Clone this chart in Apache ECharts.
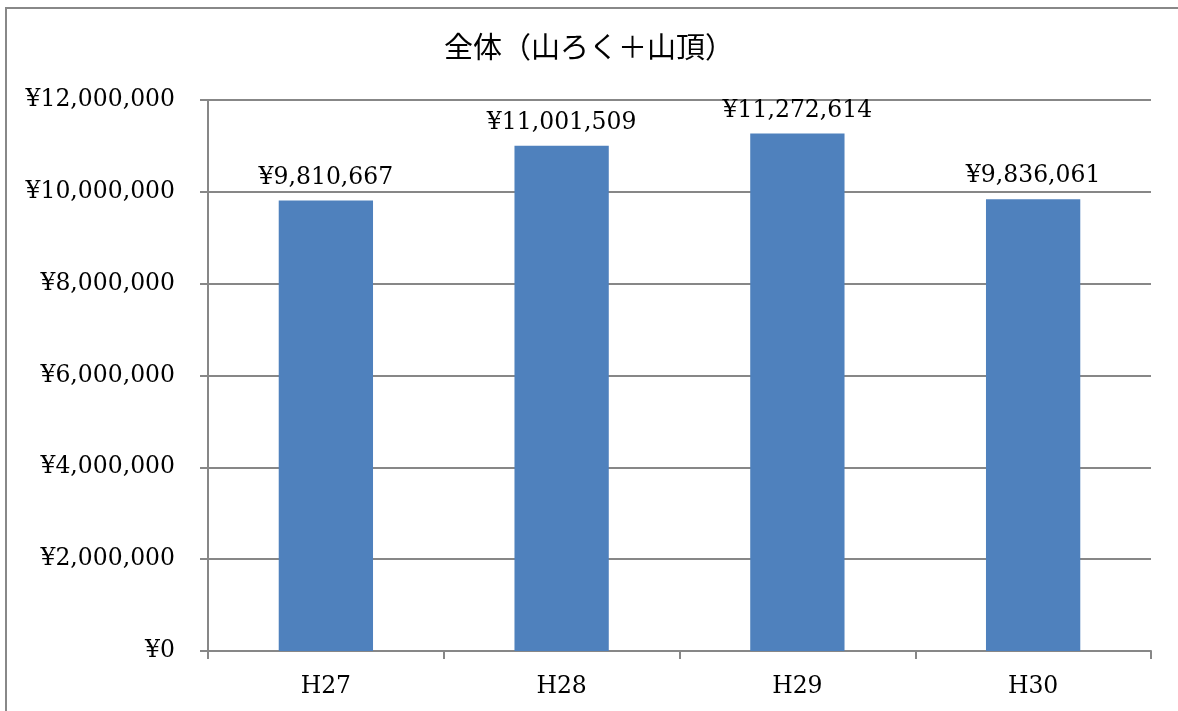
<!DOCTYPE html>
<html><head><meta charset="utf-8">
<script src="https://cdn.jsdelivr.net/npm/echarts@6/dist/echarts.min.js"></script>
<style>html,body{margin:0;padding:0;background:#fff;overflow:hidden}#c{width:1178px;height:711px}</style>
</head><body><div id="c"></div>
<script>
const titleText = '全体（山ろく＋山頂）';
const categories = ['H27', 'H28', 'H29', 'H30'];
const values = [9810667, 11001509, 11272614, 9836061];
const yTicks = [0, 2000000, 4000000, 6000000, 8000000, 10000000, 12000000];

function yen(v){ return '¥' + Number(v).toLocaleString('en-US'); }
const serif = 'DejaVu Serif';
const fs = 23.5;
const chart = echarts.init(document.getElementById('c'));
chart.setOption({
  animation: false,
  backgroundColor: '#fff',
  title: { text: titleText, left: 'center', top: 27,
    textStyle: { fontFamily: 'Noto Sans CJK JP', fontSize: 29, fontWeight: 'normal', color: '#000' } },
  graphic: [{ type: 'polyline', shape: { points: [[6, 800], [6, 8], [1300, 8]] },
    style: { fill: 'none', stroke: '#888', lineWidth: 2 }, silent: true }],
  grid: { left: 208, right: 27, top: 100, bottom: 60 },
  xAxis: { type: 'category', data: categories,
    axisLine: { lineStyle: { color: '#878787', width: 2 } },
    axisTick: { show: true, length: 8, lineStyle: { color: '#878787', width: 2 } },
    axisLabel: { fontFamily: serif, fontSize: fs, color: '#000', margin: 24 } },
  yAxis: { type: 'value', min: yTicks[0], max: yTicks[yTicks.length-1], interval: yTicks[1]-yTicks[0],
    axisLine: { show: true, lineStyle: { color: '#878787', width: 2 } },
    axisTick: { show: true, length: 8, lineStyle: { color: '#878787', width: 2 } },
    splitLine: { lineStyle: { color: '#878787', width: 2 } },
    axisLabel: { fontFamily: serif, fontSize: fs, color: '#000', margin: 33, formatter: yen } },
  series: [{ type: 'bar', data: values, barWidth: '40%',
    itemStyle: { color: '#4F81BD' },
    label: { show: true, position: 'top', distance: 11, fontFamily: serif, fontSize: fs, color: '#000',
      formatter: p => yen(p.value) } }]
});
</script></body></html>
